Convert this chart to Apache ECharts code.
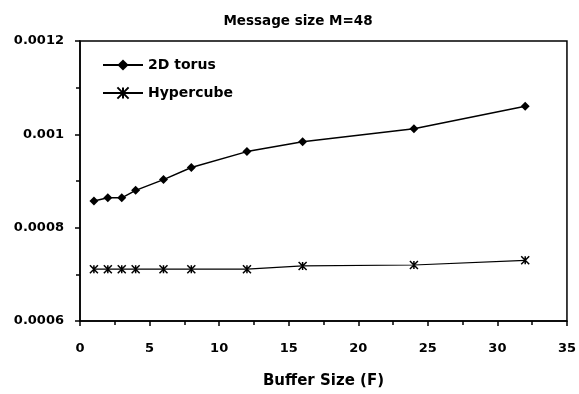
<!DOCTYPE html>
<html><head><meta charset="utf-8">
<script src="https://cdn.jsdelivr.net/npm/echarts@6/dist/echarts.min.js"></script>
<style>html,body{margin:0;padding:0;background:#fff}#c{width:579px;height:394px}</style>
</head><body><div id="c"></div>
<script>
const bufferSizes = [1, 2, 3, 4, 6, 8, 12, 16, 24, 32];
const torus = [0.000857, 0.000864, 0.000864, 0.00088, 0.000903, 0.000929, 0.000963, 0.000984, 0.001012, 0.00106];
const hypercube = [0.000711, 0.000711, 0.000711, 0.000711, 0.000711, 0.000711, 0.000711, 0.000718, 0.00072, 0.00073];
const titleText = 'Message size M=48';
const xName = 'Buffer Size (F)';

const font = '"DejaVu Sans", sans-serif';
const chart = echarts.init(document.getElementById('c'));
const star = 'path://M0,0 L10,10 M10,0 L0,10 M5,0 L5,10';
chart.setOption({
  animation: false,
  title: { text: titleText, left: 293, textAlign: 'center', top: 9,
    textStyle: { fontFamily: font, fontWeight: 'bold', fontSize: 13.5, color: '#000' } },
  legend: {
    orient: 'vertical', left: 97, top: 53, itemGap: 14, itemWidth: 40, itemHeight: 14,
    textStyle: { fontFamily: font, fontWeight: 'bold', fontSize: 14, color: '#000' },
    data: ['2D torus', 'Hypercube']
  },
  grid: { left: 80, right: 9, top: 41, bottom: 72, show: true, borderColor: '#000', borderWidth: 1.5 },
  xAxis: {
    type: 'value', min: 0, max: 35, interval: 5,
    name: xName, nameLocation: 'middle', nameGap: 53,
    nameTextStyle: { fontFamily: font, fontWeight: 'bold', fontSize: 15, color: '#000' },
    axisLine: { lineStyle: { color: '#000', width: 1.5 } },
    axisTick: { length: 5, lineStyle: { color: '#000', width: 1.5 } },
    minorTick: { show: true, splitNumber: 2, length: 4, lineStyle: { color: '#000', width: 1.5 } },
    axisLabel: { fontFamily: font, fontWeight: 'bold', fontSize: 13, color: '#000', margin: 21 },
    splitLine: { show: false }
  },
  yAxis: {
    type: 'value', min: 0.0006, max: 0.0012, interval: 0.0002,
    axisLine: { show: true, lineStyle: { color: '#000', width: 1.5 } },
    axisTick: { show: true, length: 5, lineStyle: { color: '#000', width: 1.5 } },
    minorTick: { show: true, splitNumber: 2, length: 4, lineStyle: { color: '#000', width: 1.5 } },
    axisLabel: { fontFamily: font, fontWeight: 'bold', fontSize: 13, color: '#000', margin: 16,
      formatter: v => String(parseFloat(v.toFixed(5))) },
    splitLine: { show: false }
  },
  series: [
    { name: '2D torus', type: 'line', data: bufferSizes.map((x, i) => [x, torus[i]]),
      symbol: 'diamond', symbolSize: 9, color: '#000',
      lineStyle: { color: '#000', width: 1.5 }, itemStyle: { color: '#000' } },
    { name: 'Hypercube', type: 'line', data: bufferSizes.map((x, i) => [x, hypercube[i]]),
      symbol: star, symbolSize: 8, color: '#000',
      lineStyle: { color: '#000', width: 1.2 },
      itemStyle: { color: '#fff', borderColor: '#000', borderWidth: 1.5 } }
  ]
});
</script></body></html>
